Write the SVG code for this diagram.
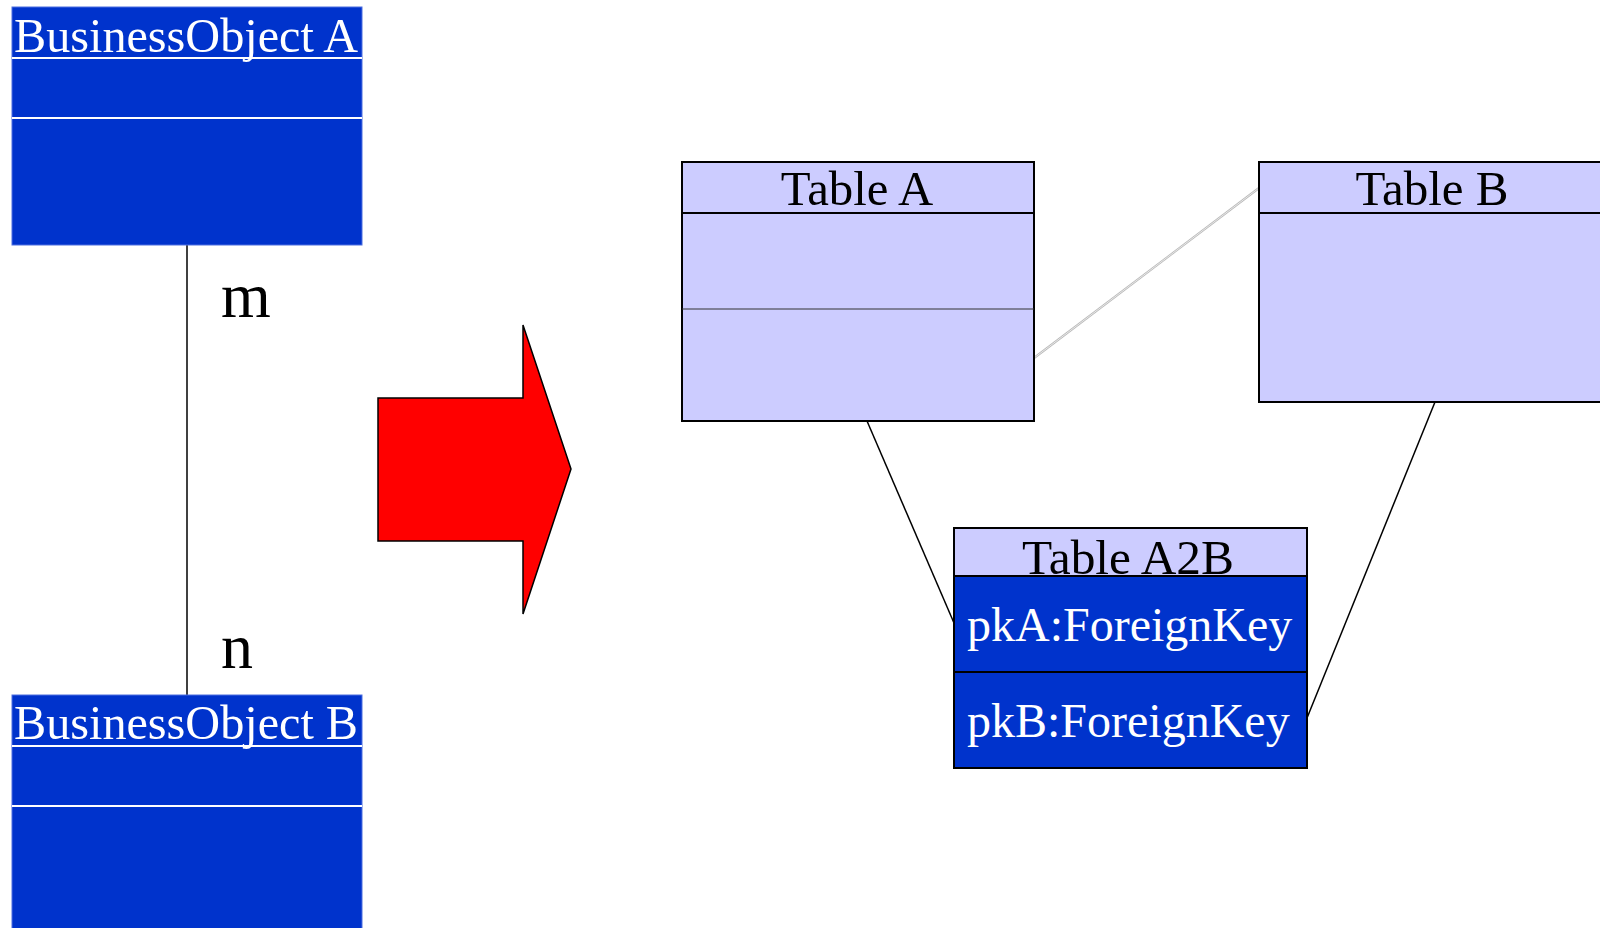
<svg xmlns="http://www.w3.org/2000/svg" width="1600" height="928" viewBox="0 0 1600 928">
<style>
.t{font-family:"Liberation Serif","Times New Roman",serif;}
.bo{fill:#0033CC;stroke:#4d6fe0;stroke-width:1;}
.wdiv{stroke:#ffffff;stroke-width:2;}
.tbl{fill:#CCCCFF;stroke:#000;stroke-width:2;}
.blue{fill:#0033CC;stroke:#000;stroke-width:2;}
.conn{stroke:#000;stroke-width:1.5;fill:none;}
</style>
<rect width="1600" height="928" fill="#ffffff"/>
<g id="connectors">
<line class="conn" x1="187" y1="245" x2="187" y2="695" stroke="#222"/>
<line class="conn" x1="867" y1="421" x2="954" y2="623"/>
<line class="conn" x1="1435" y1="402" x2="1307" y2="718"/>
<line x1="1034" y1="358" x2="1259" y2="188" stroke="#b8b8b8" stroke-width="2.2"/>
<line x1="1034" y1="358" x2="1259" y2="188" stroke="#f4f4f4" stroke-width="0.8"/>
<text class="t" x="221" y="317" font-size="64" fill="#000">m</text>
<text class="t" x="221" y="668" font-size="64" fill="#000">n</text>
</g>
<g id="boA">
<rect class="bo" x="12" y="7" width="350" height="238"/>
<line class="wdiv" x1="12" y1="58" x2="362" y2="58"/>
<line class="wdiv" x1="12" y1="118" x2="362" y2="118"/>
<text class="t" x="14" y="52" font-size="48.2" fill="#ffffff">BusinessObject A</text>
</g>
<g id="boB">
<rect class="bo" x="12" y="695" width="350" height="245"/>
<line class="wdiv" x1="12" y1="746" x2="362" y2="746"/>
<line class="wdiv" x1="12" y1="806" x2="362" y2="806"/>
<text class="t" x="14" y="739" font-size="48.2" fill="#ffffff">BusinessObject B</text>
</g>
<g id="arrow">
<polygon points="378,398 523,398 523,325 571,469 523,614 523,541 378,541" fill="#FF0000" stroke="#000" stroke-width="1.5"/>
</g>
<g id="tableA">
<rect class="tbl" x="682" y="162" width="352" height="259"/>
<line x1="682" y1="213" x2="1034" y2="213" stroke="#000" stroke-width="2"/>
<line x1="682" y1="309" x2="1034" y2="309" stroke="#333" stroke-width="1"/>
<text class="t" x="857" y="205" font-size="48.8" text-anchor="middle" fill="#000">Table A</text>
</g>
<g id="tableB">
<rect class="tbl" x="1259" y="162" width="352" height="240"/>
<line x1="1259" y1="213" x2="1611" y2="213" stroke="#000" stroke-width="2"/>
<text class="t" x="1432" y="205" font-size="49" text-anchor="middle" fill="#000">Table B</text>
</g>
<g id="tableA2B">
<rect class="tbl" x="954" y="528" width="353" height="48"/>
<rect class="blue" x="954" y="576" width="353" height="96"/>
<rect class="blue" x="954" y="672" width="353" height="96"/>
<text class="t" x="1128" y="574" font-size="49.4" text-anchor="middle" fill="#000">Table A2B</text>
<text class="t" x="967" y="641" font-size="48" fill="#ffffff">pkA:ForeignKey</text>
<text class="t" x="967" y="737" font-size="48" fill="#ffffff">pkB:ForeignKey</text>
</g>
</svg>
